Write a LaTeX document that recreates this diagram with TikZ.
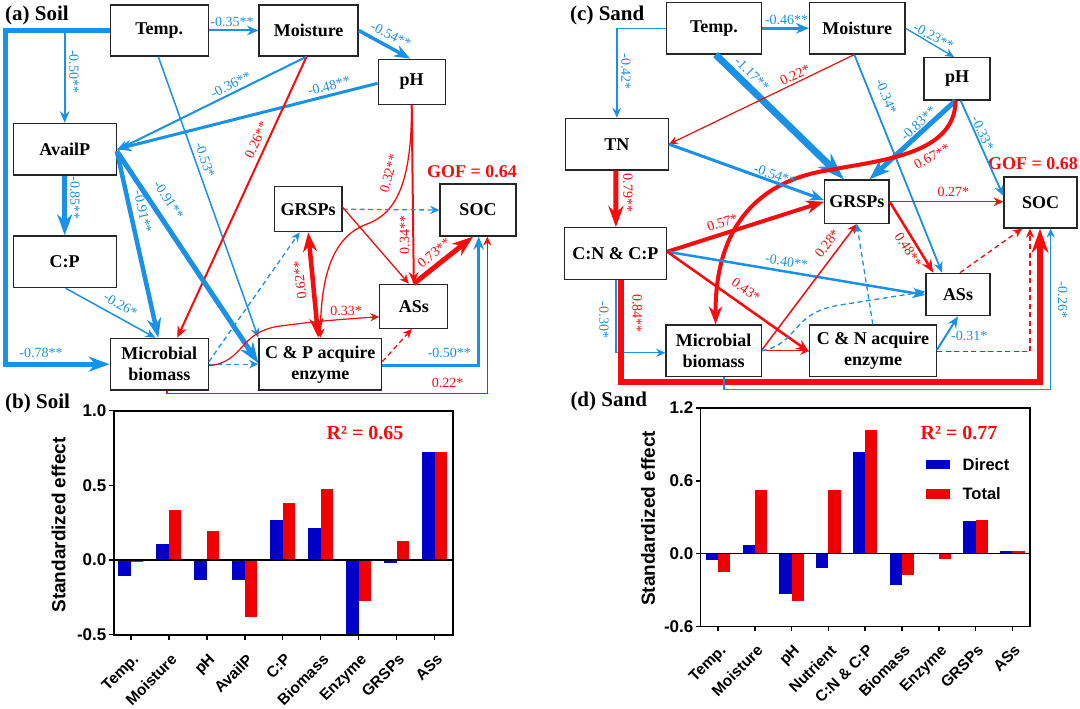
\documentclass[tikz,border=0pt]{standalone}
\usepackage{fontspec}
\setmainfont{Liberation Serif}
\newfontfamily\arialf{Liberation Sans}
\usetikzlibrary{arrows.meta}
\definecolor{eb}{RGB}{25,145,230}
\definecolor{er}{RGB}{250,10,10}
\definecolor{barb}{RGB}{0,0,200}
\definecolor{barr}{RGB}{240,0,0}
\begin{document}
\begin{tikzpicture}[x=1pt,y=-1pt,
  >={Stealth[length=5pt 3.2,width=6pt 1.8]},
  box/.style={draw=black!85,line width=1.3pt,fill=white,inner sep=0pt,align=center,font=\bfseries\fontsize{18}{21}\selectfont},
  lb/.style={inner sep=0pt,font=\fontsize{14}{16}\selectfont},
  lbb/.style={lb,text=eb}, lbr/.style={lb,text=er},
  eB/.style={draw=eb,->}, eR/.style={draw=er,->},
  dB/.style={draw=eb,->,dashed,dash pattern=on 5pt off 3.5pt,line width=1.3pt},
  dR/.style={draw=er,->,dashed,dash pattern=on 5pt off 3.5pt,line width=1.3pt},
  ttl/.style={inner sep=0pt,anchor=west,font=\bfseries\fontsize{21}{24}\selectfont},
  gof/.style={inner sep=0pt,text=er,font=\bfseries\fontsize{18}{20}\selectfont},
  axl/.style={inner sep=0pt,font=\arialf\bfseries\fontsize{17}{19}\selectfont},
  xtl/.style={inner sep=0pt,rotate=45,anchor=north east,font=\arialf\bfseries\fontsize{15.5}{17}\selectfont},
  yl/.style={inner sep=0pt,rotate=90,font=\arialf\bfseries\fontsize{19}{21}\selectfont},
  rsq/.style={inner sep=0pt,text=er,font=\bfseries\fontsize{20}{22}\selectfont},
  leg/.style={inner sep=0pt,anchor=west,font=\arialf\bfseries\fontsize{16.5}{18}\selectfont}
]
\useasboundingbox (0,0) rectangle (1080,709);

% ================= (a) Soil =================
\node[ttl] (ta) at (5,15) {(a) Soil};
\node[box,minimum width=98pt,minimum height=51pt] (tempA) at (159.3,30.5) {Temp.};
\node[box,minimum width=99pt,minimum height=51pt] (moistA) at (308.6,30.5) {Moisture};
\node[box,minimum width=67pt,minimum height=45pt] (phA) at (411.7,81.8) {pH};
\node[box,minimum width=103pt,minimum height=51.7pt] (availA) at (64.7,149.2) {AvailP};
\node[box,minimum width=103pt,minimum height=51.7pt] (cpA) at (64.7,261.8) {C:P};
\node[box,minimum width=67.5pt,minimum height=45pt] (grspA) at (308.2,209.2) {GRSPs};
\node[box,minimum width=76pt,minimum height=52pt] (socA) at (478,210) {SOC};
\node[box,minimum width=68pt,minimum height=44pt] (assA) at (413.8,306.3) {ASs};
\node[box,minimum width=98pt,minimum height=51.7pt] (bioA) at (159.3,364.2) {Microbial\\biomass};
\node[box,minimum width=122.6pt,minimum height=51.7pt] (enzA) at (320.3,364.2) {C \& P acquire\\enzyme};
\node[gof] (gofA) at (472,171.7) {GOF = 0.64};

\draw[eB,line width=5pt] (tempA.west) -- ++(-104,0) |- (bioA.west);
\draw[eB,line width=2pt] (availA.north |- tempA.west) -- (availA.north);
\draw[eB,line width=2pt] (tempA.east) -- (moistA.west);
\draw[eB,line width=3.5pt] (moistA.east) -- ([xshift=-1.5pt]phA.north);
\draw[eB,line width=2pt] ([xshift=-2pt]moistA.south) -- ([yshift=-1pt]availA.east);
\draw[eB,line width=3pt] ([yshift=-1.5pt]phA.west) -- (availA.east);
\draw[eB,line width=1.5pt] ([xshift=-1pt]tempA.south) -- (enzA.north west);
\draw[eR,line width=2pt] ([xshift=-2pt]moistA.south) -- ([xshift=18pt]bioA.north);
\draw[eR,line width=2pt] (phA.south) -- (assA.north);
\draw[eR,line width=1.3pt] (phA.south) .. controls (411.5,175) and (400,212) .. (367,224) .. controls (335,236) and (321,270) .. (enzA.north);
\draw[draw=er,<->,line width=4.5pt] (grspA.south) -- ([xshift=-2pt]enzA.north);
\draw[dB] (grspA.east) -- (socA.west);
\draw[eR,line width=1.3pt] ([yshift=2pt]grspA.east) -- ([xshift=-5pt]assA.north);
\draw[eR,line width=5pt] (assA.north) -- ([xshift=-5pt]socA.south);
\draw[eB,line width=5pt] (availA.south) -- (cpA.north);
\draw[eB,line width=4.5pt] ([yshift=-2pt]availA.east) -- ([xshift=-1pt]bioA.north);
\draw[eB,line width=5pt] ([yshift=-2pt]availA.east) -- ([yshift=1pt]enzA.west);
\draw[eB,line width=1.5pt] ([xshift=1pt]cpA.south) -- ([xshift=-4pt]bioA.north);
\draw[dB] ([yshift=2.5pt]bioA.east) -- ([xshift=-8.6pt]grspA.south);
\draw[dB] (bioA.east) -- (enzA.west);
\draw[eR,line width=1.2pt] ([yshift=-1.5pt]bioA.east) .. controls (245,362) and (238,332) .. (280,326) .. controls (320,321) .. ([yshift=-10.4pt]assA.west);
\draw[dR] ([yshift=2.5pt]enzA.east) -- ([xshift=-2pt]assA.south);
\draw[eB,line width=2.5pt] ([yshift=-1.5pt]enzA.east) -| ([xshift=0.7pt]socA.south);
\draw[eR,line width=1.2pt] ([xshift=7.7pt]bioA.south) -- ++(0,3) -| ([xshift=9.3pt]socA.south);

\node[lbb] (a1) at (41,353.3) {-0.78**};
\node[lbb,rotate=-90] (a2) at (74,71.7) {-0.50**};
\node[lbb] (a3) at (232,21.7) {-0.35**};
\node[lbb,rotate=-27] (a4) at (391,35) {-0.54**};
\node[lbb,rotate=27] (a5) at (230.7,85) {-0.36**};
\node[lbb,rotate=14.6] (a6) at (329,86) {-0.48**};
\node[lbb,rotate=-71] (a7) at (205,160) {-0.53*};
\node[lbr,rotate=65.6] (a8) at (256.5,140) {0.26**};
\node[lbr,rotate=90] (a9) at (404.6,235) {0.34**};
\node[lbr,rotate=75] (a10) at (389,173.3) {0.32**};
\node[lbr,rotate=96] (a11) at (300,280) {0.62**};
\node[lbr,rotate=40] (a12) at (434,253) {0.73**};
\node[lbb,rotate=-90] (a13) at (75,198) {-0.85**};
\node[lbb,rotate=-77.5] (a14) at (143,211.7) {-0.91**};
\node[lbb,rotate=-56.5] (a15) at (168.7,200) {-0.91**};
\node[lbb,rotate=-30] (a16) at (120.5,305) {-0.26*};
\node[lbr] (a17) at (346,311) {0.33*};
\node[lbb] (a18) at (449.4,353.3) {-0.50**};
\node[lbr] (a19) at (447.7,382.7) {0.22*};

% ================= (c) Sand =================
\node[ttl] (tc) at (570,15) {(c) Sand};
\node[box,minimum width=94.7pt,minimum height=51.3pt] (tempC) at (714,28.3) {Temp.};
\node[box,minimum width=95.3pt,minimum height=51.3pt] (moistC) at (857.3,28.3) {Moisture};
\node[box,minimum width=66pt,minimum height=42.3pt] (phC) at (957,78.8) {pH};
\node[box,minimum width=103pt,minimum height=51.7pt] (tnC) at (616.8,144.2) {TN};
\node[box,minimum width=64.5pt,minimum height=43.3pt] (grspC) at (856.8,201.7) {GRSPs};
\node[box,minimum width=73pt,minimum height=51pt] (socC) at (1040.5,202.5) {SOC};
\node[box,minimum width=102.4pt,minimum height=51.7pt] (cnC) at (615.4,253.5) {C:N \& C:P};
\node[box,minimum width=64pt,minimum height=42.4pt] (assC) at (958,294.5) {ASs};
\node[box,minimum width=95.4pt,minimum height=51.7pt] (bioC) at (713.6,350.8) {Microbial\\biomass};
\node[box,minimum width=126.7pt,minimum height=51.7pt] (enzC) at (873,350.8) {C \& N acquire\\enzyme};
\node[gof] (gofC) at (1033,163.3) {GOF = 0.68};

\draw[eB,line width=1.5pt] (tempC.west) -| (tnC.north);
\draw[eB,line width=2.5pt] (tempC.east) -- (moistC.west);
\draw[eB,line width=1.3pt] (moistC.east) -- ([xshift=-3pt]phC.north);
\draw[eB,line width=7pt] ([xshift=1.6pt]tempC.south) -- ([xshift=-12.8pt]grspC.north);
\draw[eR,line width=1.2pt] ([xshift=-3pt]moistC.south) -- (tnC.east);
\draw[eB,line width=1.8pt] ([xshift=-3pt]moistC.south) -- ([xshift=-16pt]assC.north);
\draw[eB,line width=5pt] ([xshift=-1.4pt]phC.south) -- ([xshift=12.6pt]grspC.north);
\draw[eR,line width=4pt] ([xshift=-1.4pt]phC.south) .. controls (955,155) and (880,160) .. (830,170) .. controls (760,180) and (715,225) .. ([xshift=2pt]bioC.north);
\draw[eB,line width=1.8pt] ([xshift=3.7pt]phC.south) -- ([yshift=6.5pt]socC.west);
\draw[eB,line width=3pt] (tnC.east) -- ([yshift=1.7pt]grspC.west);
\draw[eR,line width=5pt] ([xshift=-0.9pt]tnC.south) -- ([xshift=0.5pt]cnC.north);
\draw[eR,line width=4pt] ([yshift=1.8pt]cnC.east) -- (grspC.west);
\draw[eB,line width=2.5pt] ([yshift=1.8pt]cnC.east) -- ([yshift=-0.5pt]assC.west);
\draw[eR,line width=2.5pt] ([yshift=1.8pt]cnC.east) -- ([yshift=-1pt]enzC.west);
\draw[eB,line width=1.3pt] ([xshift=0.5pt]cnC.south) |- ([yshift=-2pt]bioC.west);
\draw[eR,line width=6pt] ([xshift=5.6pt]cnC.south) -- ++(0,101.7) -| ([xshift=-0.5pt]socC.south);
\draw[eB,line width=1.2pt] ([xshift=10.4pt]bioC.south) -- ++(0,12.3) -| ([xshift=10.2pt]socC.south);
\draw[eR,line width=1.5pt] (grspC.east) -- ([yshift=0.8pt]socC.west);
\draw[eR,line width=2.5pt] (grspC.east) -- ([xshift=-24.7pt]assC.north);
\draw[dR] ([xshift=2pt]assC.north) -- ([xshift=-18.5pt]socC.south);
\draw[dR] ([yshift=-1pt]enzC.east) -| ([xshift=-10.5pt]socC.south);
\draw[eR,line width=1.5pt] ([yshift=1pt]bioC.east) -- (grspC.south);
\draw[eR,line width=1.2pt] (bioC.east) -- (enzC.west);
\draw[dB] (bioC.east) .. controls (800,343) and (790,313) .. (840,305) .. controls (880,298) .. ([yshift=2.8pt]assC.west);
\draw[dB] ([xshift=-0.2pt]enzC.north) -- (grspC.south);
\draw[eB,line width=2pt] ([yshift=1pt]enzC.east) -- (assC.south);

\node[lbb,rotate=-90] (c1) at (626,71.7) {-0.42*};
\node[lbb] (c2) at (786.6,20) {-0.46**};
\node[lbb,rotate=-28] (c3) at (933.6,36.7) {-0.23**};
\node[lbb,rotate=-44.8] (c4) at (752,74) {-1.17**};
\node[lbr,rotate=26] (c5) at (795,75) {0.22*};
\node[lbb,rotate=-68] (c6) at (886.3,96.7) {-0.34*};
\node[lbb,rotate=43] (c7) at (918.4,123.3) {-0.83**};
\node[lbr,rotate=28] (c8) at (932,156.7) {0.67**};
\node[lbb,rotate=-65] (c9) at (982.6,133.3) {-0.33*};
\node[lbb,rotate=-19] (c10) at (774.8,175) {-0.54**};
\node[lbr,rotate=-90] (c11) at (628,193) {0.79**};
\node[lbr,rotate=17.7] (c12) at (722.4,222.7) {0.57*};
\node[lbb,rotate=-9.6] (c13) at (786.6,261.7) {-0.40**};
\node[lbr,rotate=-35.4] (c14) at (746,290) {0.43*};
\node[lbb,rotate=-90] (c15) at (604,320) {-0.30*};
\node[lbr,rotate=-90] (c16) at (637.2,313.3) {0.84**};
\node[lbb,rotate=-90] (c17) at (1062.7,300) {-0.26*};
\node[lbr] (c18) at (953.3,191.7) {0.27*};
\node[lbr,rotate=-58] (c19) at (908.3,250) {0.48**};
\node[lbr,rotate=53] (c20) at (827.2,243.3) {0.28*};
\node[lbb] (c21) at (969.3,336) {-0.31*};

% ================= (b) Soil chart =================
\node[ttl] (tb) at (5,403.3) {(b) Soil};
\foreach \v [count=\i from 0] in {-0.107,0.105,-0.134,-0.134,0.266,0.216,-0.5,-0.018,0.725}{
  \pgfmathsetmacro\xx{130.9+37.96*\i}
  \fill[barb] (\xx-12.5,560) rectangle (\xx,{560-149.3*(\v)});
}
\foreach \v [count=\i from 0] in {-0.015,0.334,0.196,-0.384,0.384,0.473,-0.272,0.127,0.725}{
  \pgfmathsetmacro\xx{130.9+37.96*\i}
  \fill[barr] (\xx,560) rectangle (\xx+12.5,{560-149.3*(\v)});
}
\draw[line width=1.8pt] (113.6,410.7) rectangle (452.8,634.7);
\draw[line width=1.5pt] (113.6,560) -- (452.8,560);
\foreach \t/\y [count=\k] in {1.0/410.7,0.5/485.3,0.0/560,-0.5/634.7}{
  \draw[line width=1.5pt] (113.6,\y) -- (109,\y);
  \node[axl,anchor=east] (byt\k) at (106.5,\y) {\t};
}
\foreach \t [count=\i from 0] in {Temp.,Moisture,pH,AvailP,C:P,Biomass,Enzyme,GRSPs,ASs}{
  \pgfmathsetmacro\xx{130.9+37.96*\i}
  \draw[line width=1.5pt] (\xx,634.7) -- (\xx,639.5);
  \node[xtl] (bxl\i) at (\xx+1,652.5) {\t};
}
\node[yl] (byl) at (58.5,525) {Standardized effect};
\node[rsq] (br) at (365,432.7) {R² = 0.65};

% ================= (d) Sand chart =================
\node[ttl] (td) at (570.3,401.7) {(d) Sand};
\foreach \v [count=\i from 0] in {-0.055,0.068,-0.33,-0.115,0.837,-0.26,0,0.268,0.02}{
  \pgfmathsetmacro\xx{718+36.8*\i}
  \fill[barb] (\xx-12.2,553.7) rectangle (\xx,{553.7-121.4*(\v)});
}
\foreach \v [count=\i from 0] in {-0.15,0.527,-0.39,0.527,1.02,-0.178,-0.04,0.28,0.02}{
  \pgfmathsetmacro\xx{718+36.8*\i}
  \fill[barr] (\xx,553.7) rectangle (\xx+12.2,{553.7-121.4*(\v)});
}
\draw[line width=1.8pt] (700.4,408) rectangle (1030,626.5);
\draw[line width=1.5pt] (700.4,553.7) -- (1030,553.7);
\foreach \t/\y [count=\k] in {1.2/408,0.6/480.9,0.0/553.7,-0.6/626.5}{
  \draw[line width=1.5pt] (700.4,\y) -- (695.8,\y);
  \node[axl,anchor=east] (dyt\k) at (693.5,\y) {\t};
}
\foreach \t [count=\i from 0] in {Temp.,Moisture,pH,Nutrient,C:N \& C:P,Biomass,Enzyme,GRSPs,ASs}{
  \pgfmathsetmacro\xx{718+36.8*\i}
  \draw[line width=1.5pt] (\xx,626.5) -- (\xx,631.3);
  \node[xtl] (dxl\i) at (\xx+1,643.5) {\t};
}
\node[yl] (dyl) at (648,518.3) {Standardized effect};
\node[rsq] (dr) at (959,432.7) {R² = 0.77};
\fill[barb] (925.9,460) rectangle (949.5,469.3);
\node[leg] (ld) at (962.4,464.7) {Direct};
\fill[barr] (925.9,489.3) rectangle (949.5,498.7);
\node[leg] (lt) at (962.4,494) {Total};
\end{tikzpicture}
\end{document}
